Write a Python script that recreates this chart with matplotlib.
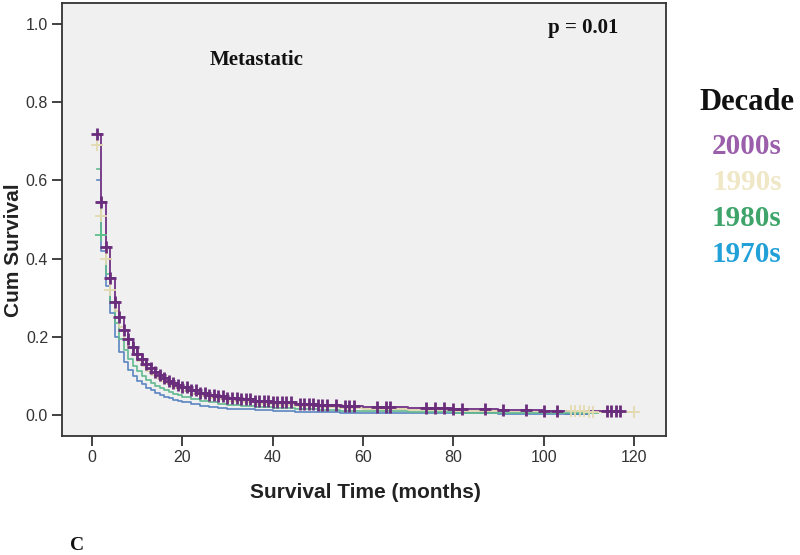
import numpy as np
import matplotlib
matplotlib.use("Agg")
import matplotlib.pyplot as plt

# ---------------- data ----------------
times = [1, 2, 3, 4, 5, 6, 7, 8, 9, 10, 11, 12, 13, 14, 15, 16, 17, 18, 19, 20,
         22, 24, 26, 28, 30, 33, 36, 40, 45, 50, 55, 60, 70, 80, 90, 100, 110]

surv_2000s = [0.72, 0.545, 0.43, 0.35, 0.29, 0.25, 0.218, 0.194, 0.174, 0.157, 0.143,
              0.131, 0.12, 0.11, 0.102, 0.095, 0.088, 0.082, 0.077, 0.072, 0.064,
              0.057, 0.052, 0.048, 0.044, 0.04, 0.036, 0.032, 0.028, 0.025, 0.022,
              0.02, 0.017, 0.014, 0.012, 0.011, 0.01]
surv_1990s = [0.69, 0.51, 0.40, 0.32, 0.265, 0.225, 0.195, 0.17, 0.152, 0.137, 0.124,
              0.113, 0.103, 0.095, 0.087, 0.081, 0.075, 0.07, 0.065, 0.061, 0.054,
              0.048, 0.044, 0.04, 0.036, 0.032, 0.029, 0.026, 0.022, 0.019, 0.017,
              0.015, 0.013, 0.011, 0.01, 0.009, 0.008]
surv_1980s = [0.63, 0.46, 0.36, 0.29, 0.235, 0.195, 0.165, 0.143, 0.126, 0.112, 0.1,
              0.09, 0.082, 0.075, 0.069, 0.063, 0.058, 0.054, 0.05, 0.046, 0.04,
              0.036, 0.032, 0.029, 0.026, 0.023, 0.021, 0.018, 0.015, 0.013, 0.011,
              0.009, 0.007, 0.006, 0.005, 0.005, 0.004]
surv_1970s = [0.6, 0.42, 0.33, 0.26, 0.2, 0.16, 0.135, 0.115, 0.1, 0.088, 0.078,
              0.07, 0.063, 0.057, 0.051, 0.046, 0.042, 0.038, 0.035, 0.032, 0.027,
              0.023, 0.02, 0.018, 0.016, 0.014, 0.012, 0.01, 0.008, 0.007, 0.006,
              0.005, 0.004, 0.004, 0.003, 0.003, 0.003]

end_times = {"2000s": 117, "1990s": 120, "1980s": 112, "1970s": 105}

censor_2000s = [1, 2, 3, 4, 5, 6, 7, 8, 9, 10, 11, 12, 13, 14, 15, 16, 17, 18, 19, 20,
                21, 22, 23, 24, 25, 26, 27, 28, 29, 30, 31, 32, 33, 34, 35, 36, 37, 38,
                39, 40, 41, 42, 43, 44, 46, 47, 48, 49, 50, 51, 52, 54, 56, 57, 58,
                63, 65, 66, 74, 76, 78, 80, 82, 87, 91, 96, 100, 103, 114, 115, 116, 117]
censor_1990s = [1, 2, 3, 4, 106, 107, 108, 109, 110, 111, 120]
censor_1980s = [2]
censor_1970s = []

decades = ["2000s", "1990s", "1980s", "1970s"]
x_ticks = [0, 20, 40, 60, 80, 100, 120]
y_ticks = [0.0, 0.2, 0.4, 0.6, 0.8, 1.0]

# ---------------- style ----------------
line_colors = {"2000s": "#7b3f8e", "1990s": "#ddd4a6", "1980s": "#62b98f", "1970s": "#5a86c0"}
marker_colors = {"2000s": "#6a2d7c", "1990s": "#e2dab0", "1980s": "#5cc08a", "1970s": "#5a86c0"}
text_colors = {"2000s": "#9a5eab", "1990s": "#efe7c6", "1980s": "#3ea46a", "1970s": "#22a0d8"}

series = {"2000s": surv_2000s, "1990s": surv_1990s, "1980s": surv_1980s, "1970s": surv_1970s}
censors = {"2000s": censor_2000s, "1990s": censor_1990s, "1980s": censor_1980s, "1970s": censor_1970s}

fig = plt.figure(figsize=(8, 5.55), dpi=100)
ax = fig.add_axes([62 / 800, 1 - 436 / 555, 604 / 800, 433 / 555])
ax.set_facecolor("#f0f0f0")

for d in ["1970s", "1980s", "1990s", "2000s"]:
    t = np.array(times + [end_times[d]], dtype=float)
    s = np.array(series[d] + [series[d][-1]], dtype=float)
    ax.step(t, s, where="post", color=line_colors[d], lw=1.4 if d == "2000s" else 1.2, zorder=3)
    c = np.array(censors[d], dtype=float)
    if len(c):
        idx = np.searchsorted(t, c, side="right") - 1
        idx = np.clip(idx, 0, len(s) - 1)
        ax.plot(c, s[idx], linestyle="none", marker="+", ms=9 if d == "2000s" else 8,
                mew=2.0 if d == "2000s" else 1.3, color=marker_colors[d], zorder=4)

ax.set_xlim(-6.64, 127.1)
ax.set_ylim(-0.054, 1.054)
ax.set_xticks(x_ticks)
ax.set_yticks(y_ticks)
ax.set_xticklabels([str(v) for v in x_ticks])
ax.set_yticklabels([f"{v:.1f}" for v in y_ticks])

tick_font = ["Liberation Sans", "DejaVu Sans"]
for lab in ax.get_xticklabels() + ax.get_yticklabels():
    lab.set_family(tick_font)
    lab.set_fontsize(11.5)
    lab.set_color("#333333")
ax.tick_params(direction="out", length=7, width=1.3, color="#333333", pad=3)
for sp in ax.spines.values():
    sp.set_color("#333333")
    sp.set_linewidth(1.3)

ax.set_xlabel("Survival Time (months)", family=["Liberation Sans"],
              fontsize=15, fontweight="bold", color="#222222")
ax.set_ylabel("Cum Survival", family=["Liberation Sans"],
              fontsize=15, fontweight="bold", color="#222222")
ax.xaxis.set_label_coords((365 - 62) / 604, (436 - 493) / 433)
ax.yaxis.set_label_coords((14 - 62) / 604, (436 - 250) / 433)
ax.xaxis.label.set_va("center")
ax.yaxis.label.set_va("center")

serif = ["Liberation Serif", "DejaVu Serif"]
fig.text(257 / 800, 1 - 60 / 555, "Metastatic", family=serif, fontweight="bold",
         fontsize=15, ha="center", va="center", color="#111111")
fig.text(583 / 800, 1 - 28 / 555, "p = 0.01", family=serif, fontweight="bold",
         fontsize=15, ha="center", va="center", color="#111111")

fig.text(747 / 800, 1 - 102 / 555, "Decade", family=serif, fontweight="bold",
         fontsize=22, ha="center", va="center", color="#111111")
ys = [146, 182, 219, 255]
for d, y in zip(decades, ys):
    fig.text(747 / 800, 1 - y / 555, d, family=serif, fontweight="bold",
             fontsize=21, ha="center", va="center", color=text_colors[d])

fig.text(77 / 800, 1 - 545 / 555, "C", family=serif, fontweight="bold",
         fontsize=14, ha="center", va="center", color="#111111")

fig.savefig("out.png", dpi=100)
